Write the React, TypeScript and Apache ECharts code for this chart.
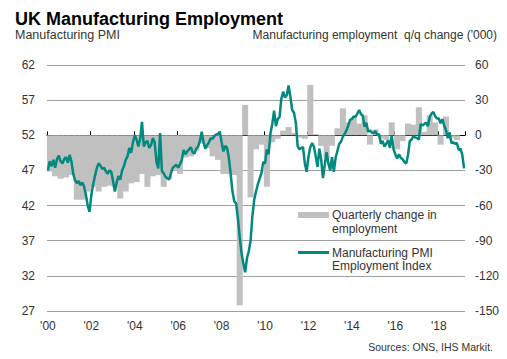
import React, { useEffect, useRef } from "react";
import * as echarts from "echarts";

// ---- Data -------------------------------------------------------------
const START_YEAR = 2000;
const N_MONTHS = 231; // Jan 2000 .. Mar 2019
const N_QUARTERS = 77; // 2000Q1 .. 2019Q1

// Manufacturing PMI Employment Index (monthly, left axis)
const pmi2000 = [47.0, 48.3, 47.6, 48.5, 47.4, 48.6, 49.1, 48.3, 48.0, 48.6, 48.9, 48.1];
const pmi2001 = [49.2, 48.3, 46.5, 45.6, 45.2, 45.5, 44.9, 45.3, 44.7, 43.5, 42.0, 41.1];
const pmi2002 = [43.5, 45.0, 46.2, 47.3, 48.0, 47.7, 47.2, 47.4, 46.9, 46.5, 47.0, 46.8];
const pmi2003 = [45.5, 44.0, 45.3, 46.2, 45.7, 47.0, 47.6, 48.5, 49.0, 50.2, 49.5, 51.0];
const pmi2004 = [52.0, 51.4, 50.4, 51.5, 53.9, 50.4, 51.0, 51.2, 50.2, 50.6, 51.6, 51.0];
const pmi2005 = [48.2, 47.3, 52.3, 46.9, 46.6, 46.1, 45.9, 45.7, 46.6, 47.4, 47.6, 47.8];
const pmi2006 = [47.4, 47.9, 48.5, 49.9, 49.3, 49.7, 50.0, 50.3, 49.6, 49.4, 50.1, 50.4];
const pmi2007 = [51.2, 52.5, 51.0, 50.1, 50.6, 51.0, 51.6, 51.5, 51.9, 52.1, 52.2, 52.5];
const pmi2008 = [51.0, 49.7, 50.5, 50.2, 48.8, 46.5, 44.0, 42.6, 42.3, 40.2, 37.5, 35.2];
const pmi2009 = [33.8, 32.5, 34.5, 35.5, 37.0, 40.5, 42.8, 44.0, 45.0, 45.8, 46.6, 48.2];
const pmi2010 = [48.0, 50.0, 49.3, 52.3, 53.6, 55.5, 53.3, 54.3, 54.6, 57.2, 58.2, 57.4];
const pmi2011 = [57.7, 59.1, 57.5, 55.6, 55.2, 53.8, 50.5, 50.0, 50.2, 50.3, 48.0, 46.8];
const pmi2012 = [49.0, 50.3, 50.9, 50.4, 49.0, 47.5, 50.1, 48.6, 45.9, 47.8, 49.6, 48.0];
const pmi2013 = [47.0, 48.9, 46.8, 48.8, 49.8, 50.8, 51.1, 51.8, 52.2, 52.7, 53.4, 54.2];
const pmi2014 = [54.3, 54.7, 54.6, 55.1, 55.6, 55.0, 54.8, 53.2, 53.8, 52.5, 52.7, 52.4];
const pmi2015 = [52.3, 52.6, 52.0, 52.2, 50.8, 51.2, 50.4, 50.8, 51.3, 50.2, 52.0, 50.0];
const pmi2016 = [49.3, 48.7, 49.3, 48.8, 48.6, 48.2, 48.0, 49.2, 51.2, 51.4, 51.9, 51.7];
const pmi2017 = [51.6, 51.4, 53.6, 53.4, 53.6, 53.8, 53.3, 54.6, 55.1, 55.3, 54.7, 54.4];
const pmi2018 = [54.4, 53.7, 54.3, 53.4, 52.7, 51.6, 52.4, 50.9, 51.0, 50.8, 50.9, 49.9];
const pmi2019 = [50.1, 49.2, 47.3];

// Quarterly change in manufacturing employment ('000, right axis)
const emp2000 = [-31, -35, -37, -36];
const emp2001 = [-34, -55, -55, -48];
const emp2002 = [-44, -48, -44, -43];
const emp2003 = [-44, -54, -48, -41];
const emp2004 = [-40, -33, -44, -35];
const emp2005 = [-34, -44, -37, -30];
const emp2006 = [-33, -19, -18, -13];
const emp2007 = [-7, -11, -18, -21];
const emp2008 = [-33, -33, -34, -145];
const emp2009 = [26, -53, -12, -8];
const emp2010 = [-44, -6, -3, 4];
const emp2011 = [7, 2, -2, -3];
const emp2012 = [43, 1, -9, -20];
const emp2013 = [-9, 6, 23, 11];
const emp2014 = [15, 10, 17, -8];
const emp2015 = [5, -3, -4, 11];
const emp2016 = [-12, -5, 10, 9];
const emp2017 = [24, 3, 17, 11];
const emp2018 = [-8, 16, -2, -4];

const YEAR_LABELS = ["'00", "'02", "'04", "'06", "'08", "'10", "'12", "'14", "'16", "'18"];

const PMI = [
  ...pmi2000, ...pmi2001, ...pmi2002, ...pmi2003, ...pmi2004, ...pmi2005, ...pmi2006,
  ...pmi2007, ...pmi2008, ...pmi2009, ...pmi2010, ...pmi2011, ...pmi2012, ...pmi2013,
  ...pmi2014, ...pmi2015, ...pmi2016, ...pmi2017, ...pmi2018, ...pmi2019,
];
const EMP = [
  ...emp2000, ...emp2001, ...emp2002, ...emp2003, ...emp2004, ...emp2005, ...emp2006,
  ...emp2007, ...emp2008, ...emp2009, ...emp2010, ...emp2011, ...emp2012, ...emp2013,
  ...emp2014, ...emp2015, ...emp2016, ...emp2017, ...emp2018,
];

const MONTHS: string[] = [];
for (let i = 0; i < N_MONTHS; i++) {
  const y = START_YEAR + Math.floor(i / 12);
  const m = (i % 12) + 1;
  MONTHS.push(`${y}-${m < 10 ? "0" + m : m}`);
}
const QUARTERS: string[] = [];
for (let i = 0; i < N_QUARTERS; i++) {
  QUARTERS.push(`${START_YEAR + Math.floor(i / 4)} Q${(i % 4) + 1}`);
}

const FONT = '"Liberation Sans", Arial, Helvetica, sans-serif';
const TEAL = "#00897e";
const GREY = "#c0c0c0";

export default function App() {
  const ref = useRef<HTMLDivElement>(null);
  useEffect(() => {
    if (!ref.current) return;
    const chart = echarts.init(ref.current, undefined, { renderer: "svg" });
    const everyTwoYears = (i: number) => i % 24 === 0;
    chart.setOption({
      animation: false,
      textStyle: { fontFamily: FONT },
      grid: { left: 47, right: 42, top: 65, bottom: 48 },
      xAxis: [
        {
          type: "category",
          data: MONTHS,
          boundaryGap: true,
          axisLine: { show: true, lineStyle: { color: "#000", width: 1 } },
          axisTick: { show: true, inside: true, length: 4, interval: everyTwoYears, lineStyle: { color: "#000" } },
          axisLabel: {
            interval: everyTwoYears,
            formatter: (_v: string, i: number) => YEAR_LABELS[Math.round(i / 24)] ?? "",
            color: "#333",
            fontSize: 12,
            fontFamily: FONT,
            margin: 9,
          },
          splitLine: { show: false },
          splitArea: { show: false },
        },
        {
          type: "category", data: QUARTERS, show: false, boundaryGap: true,
          splitLine: { show: false }, splitArea: { show: false },
          axisTick: { show: false }, axisLine: { show: false }, axisLabel: { show: false },
        },
      ],
      yAxis: [
        {
          type: "value",
          position: "left",
          min: 27,
          max: 62,
          interval: 5,
          axisLine: { show: false },
          axisTick: { show: false },
          axisLabel: { color: "#333", fontSize: 12, fontFamily: FONT, margin: 12 },
          splitLine: { show: true, lineStyle: { color: "#a0a0a0", width: 1 } },
        },
        {
          type: "value",
          position: "right",
          min: -150,
          max: 60,
          interval: 30,
          axisLine: { show: false },
          axisTick: { show: false },
          axisLabel: { color: "#333", fontSize: 12, fontFamily: FONT, margin: 10 },
          splitLine: { show: false },
        },
      ],
      series: [
        {
          type: "bar",
          name: "Quarterly change in employment",
          xAxisIndex: 1,
          yAxisIndex: 1,
          data: EMP,
          barWidth: "112%",
          barGap: "-100%",
          itemStyle: { color: GREY },
        },
        {
          type: "line",
          name: "Manufacturing PMI Employment Index",
          xAxisIndex: 0,
          yAxisIndex: 0,
          data: PMI,
          symbol: "none",
          lineStyle: { color: TEAL, width: 2.5 },
          itemStyle: { color: TEAL },
        },
      ],
      graphic: [
        {
          type: "text", x: 15, y: 18.5,
          style: { text: "UK Manufacturing Employment", fontSize: 18, fontWeight: "bold", fontFamily: FONT, fill: "#000", align: "left", verticalAlign: "middle" },
        },
        {
          type: "text", x: 15, y: 35,
          style: { text: "Manufacturing PMI", fontSize: 12.5, fontFamily: FONT, fill: "#333", align: "left", verticalAlign: "middle" },
        },
        {
          type: "text", x: 497, y: 35,
          style: { text: "Manufacturing employment  q/q change ('000)", fontSize: 12, fontFamily: FONT, fill: "#333", align: "right", verticalAlign: "middle" },
        },
        {
          type: "text", x: 493, y: 347,
          style: { text: "Sources: ONS, IHS Markit.", fontSize: 10.5, fontFamily: FONT, fill: "#333", align: "right", verticalAlign: "middle" },
        },
        { type: "rect", shape: { x: 298, y: 212, width: 31, height: 6 }, style: { fill: GREY } },
        {
          type: "text", x: 332, y: 215,
          style: { text: "Quarterly change in", fontSize: 12, fontFamily: FONT, fill: "#333", align: "left", verticalAlign: "middle" },
        },
        {
          type: "text", x: 332, y: 228.5,
          style: { text: "employment", fontSize: 12, fontFamily: FONT, fill: "#333", align: "left", verticalAlign: "middle" },
        },
        { type: "line", shape: { x1: 298, y1: 252.5, x2: 329, y2: 252.5 }, style: { stroke: TEAL, lineWidth: 3 } },
        {
          type: "text", x: 332, y: 252.5,
          style: { text: "Manufacturing PMI", fontSize: 12, fontFamily: FONT, fill: "#333", align: "left", verticalAlign: "middle" },
        },
        {
          type: "text", x: 332, y: 266,
          style: { text: "Employment Index", fontSize: 12, fontFamily: FONT, fill: "#333", align: "left", verticalAlign: "middle" },
        },
      ],
    });
    return () => chart.dispose();
  }, []);
  return <div ref={ref} style={{ width: 507, height: 359, position: "absolute", left: 0, top: 0 }} />;
}
